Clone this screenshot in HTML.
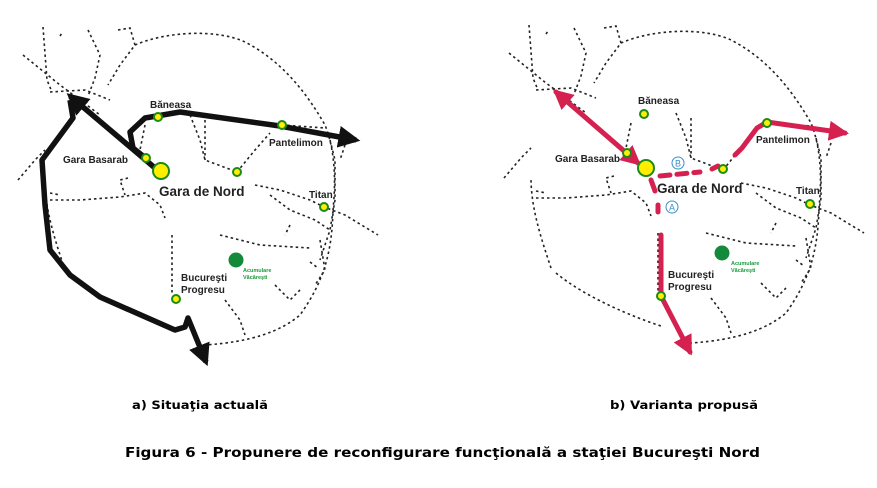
<!DOCTYPE html>
<html><head><meta charset="utf-8"><style>
html,body{margin:0;padding:0;background:#fff}
svg{display:block}
text{font-family:"Liberation Sans",Arial,sans-serif}
.cap{font-family:"DejaVu Sans","Liberation Sans",sans-serif;font-weight:bold}
</style></head><body>
<svg width="877" height="488" viewBox="0 0 877 488" xmlns="http://www.w3.org/2000/svg">
<defs>
<g id="net" fill="none" stroke="#222" stroke-width="1.6" stroke-dasharray="2.5,3">
<path d="M135,45 C170,30 220,30 245,42 C280,60 305,90 325,125 C335,150 336,180 333,210 C332,250 325,280 300,315 C280,332 250,342 205,345"/>
<path d="M65,270 C55,240 45,210 45,180"/>
<path d="M70,275 C100,300 150,320 175,328"/>
<path d="M23,55 L60,85 L100,115"/>
<path d="M43,27 L47,80 L52,92"/>
<path d="M50,92 L85,90 L110,100"/>
<path d="M88,30 L100,55 L95,78 L88,96"/>
<path d="M60,36 L62,33 M118,30 L130,28 L135,45 L120,65 L108,85"/>
<path d="M18,180 L35,160 L45,150"/>
<path d="M50,200 L80,200 L120,197 L145,193 L160,205 L165,218"/>
<path d="M50,193 L60,195"/>
<path d="M145,125 L140,150"/>
<path d="M128,178 L120,180 L125,195"/>
<path d="M190,115 L200,140 L205,160 L237,172"/>
<path d="M205,120 L205,160"/>
<path d="M237,172 L255,150 L270,133"/>
<path d="M282,125 L325,128"/>
<path d="M255,185 L280,190 L310,200 L324,207 L345,215 L378,235"/>
<path d="M270,195 L290,210 L315,220 L330,230"/>
<path d="M330,140 L335,160 L335,200 L330,230 L320,260"/>
<path d="M345,145 L340,160"/>
<path d="M220,235 L260,245 L310,248"/>
<path d="M290,225 L285,235"/>
<path d="M320,240 L325,270 L315,285"/>
<path d="M172,235 L172,295"/>
<path d="M225,300 L240,320 L245,335"/>
<path d="M275,285 L290,300 L300,290"/>
<path d="M310,262 L318,268"/>
</g>
<marker id="ab" viewBox="0 0 10 10" refX="8" refY="5" markerWidth="4" markerHeight="4" orient="auto-start-reverse"><path d="M0,0 L10,5 L0,10 z" fill="#111"/></marker>
<marker id="ar" viewBox="0 0 10 10" refX="8" refY="5" markerWidth="4" markerHeight="4" orient="auto-start-reverse"><path d="M0,0 L10,5 L0,10 z" fill="#d4214f"/></marker>
</defs>

<!-- LEFT -->
<use href="#net"/>
<g fill="none" stroke="#111" stroke-width="5.5" stroke-linejoin="round">
<path d="M155,168 L70,96" marker-end="url(#ab)"/>
<path d="M70,100 L73,118 L42,160 L45,205 L50,250 L70,275 L100,297 L175,330 L185,327 L188,318 L206,362" marker-end="url(#ab)"/>
<path d="M148,160 L133,148 L130,132 L145,118 L180,112 L280,126 L356,140" marker-end="url(#ab)"/>
</g>
<g stroke="#1a8a1a" stroke-width="2" fill="#ffee00">
<circle cx="158" cy="117" r="4"/><circle cx="282" cy="125" r="4"/><circle cx="146" cy="158" r="4"/>
<circle cx="161" cy="171" r="8"/><circle cx="237" cy="172" r="4"/><circle cx="324" cy="207" r="4"/><circle cx="176" cy="299" r="4"/>
</g>
<circle cx="236" cy="260" r="7.5" fill="#138a3a"/>
<g font-size="10" font-weight="bold" fill="#222">
<text x="150" y="108">Băneasa</text>
<text x="128" y="163" text-anchor="end">Gara Basarab</text>
<text x="159" y="196" font-size="13.5">Gara de Nord</text>
<text x="269" y="146">Pantelimon</text>
<text x="309" y="198">Titan</text>
<text x="181" y="281">Bucureşti</text>
<text x="181" y="293">Progresu</text>
</g>
<g font-size="5.5" font-weight="bold" fill="#1a9a3a"><text x="243" y="272">Acumulare</text><text x="243" y="279">Văcăreşti</text></g>

<!-- RIGHT -->
<use href="#net" transform="translate(486,-2)"/>
<g fill="none" stroke="#d4214f" stroke-width="5" stroke-linecap="round">
<path d="M638,163 L556,92" marker-start="url(#ar)" marker-end="url(#ar)"/>
<path d="M735,155 L742,148 L757,128 L767,122 L845,133" marker-end="url(#ar)"/>
<path d="M661,235 L661,296 L690,352" marker-end="url(#ar)"/>
<path d="M660,176 L700,172 M712,169 L718,166" stroke-dasharray="10,7"/>
<path d="M651,180 L655,191"/>
<path d="M658,205 L658,212"/>
</g>
<g stroke="#1a8a1a" stroke-width="2" fill="#ffee00">
<circle cx="644" cy="114" r="4"/><circle cx="767" cy="123" r="4"/><circle cx="627" cy="153" r="4"/>
<circle cx="646" cy="168" r="8"/><circle cx="723" cy="169" r="4"/><circle cx="810" cy="204" r="4"/><circle cx="661" cy="296" r="4"/>
</g>
<circle cx="722" cy="253" r="7.5" fill="#138a3a"/>
<g fill="#fff" stroke="#3a90c8" stroke-width="1"><circle cx="678" cy="163" r="6"/><circle cx="672" cy="207" r="6"/></g>
<g font-size="9" fill="#3a90c8" text-anchor="middle"><text x="678" y="166.5">B</text><text x="672" y="210.5">A</text></g>
<g font-size="10" font-weight="bold" fill="#222">
<text x="638" y="104">Băneasa</text>
<text x="555" y="162">Gara Basarab</text>
<text x="657" y="193" font-size="13.5">Gara de Nord</text>
<text x="756" y="143">Pantelimon</text>
<text x="796" y="194">Titan</text>
<text x="668" y="278">Bucureşti</text>
<text x="668" y="290">Progresu</text>
</g>
<g font-size="5.5" font-weight="bold" fill="#1a9a3a"><text x="731" y="265">Acumulare</text><text x="731" y="272">Văcăreşti</text></g>

<!-- captions -->
<text class="cap" x="132" y="409" font-size="11.5" textLength="136" lengthAdjust="spacingAndGlyphs">a) Situaţia actuală</text>
<text class="cap" x="610" y="409" font-size="11.5" textLength="148" lengthAdjust="spacingAndGlyphs">b) Varianta propusă</text>
<text class="cap" x="125" y="457" font-size="13" textLength="635" lengthAdjust="spacingAndGlyphs">Figura 6 - Propunere de reconfigurare funcţională a staţiei Bucureşti Nord</text>
</svg>
</body></html>
